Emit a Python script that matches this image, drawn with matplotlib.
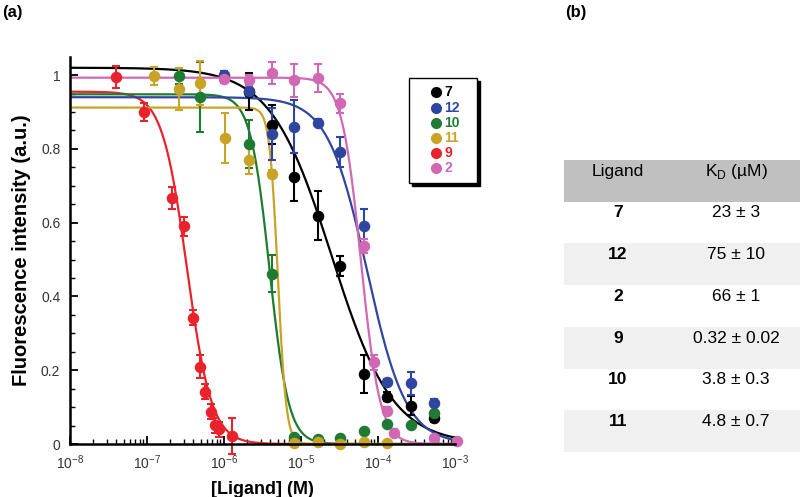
import numpy as np
import matplotlib
matplotlib.use("Agg")
import matplotlib.pyplot as plt
from matplotlib.patches import Rectangle
from matplotlib.lines import Line2D
from matplotlib.ticker import LogLocator, MultipleLocator, NullFormatter

plt.rcParams['font.family'] = ['Liberation Sans', 'DejaVu Sans']
plt.rcParams['mathtext.fontset'] = 'custom'
plt.rcParams['mathtext.rm'] = 'Liberation Sans'

# ---------------- data ----------------
ligands = ['7', '12', '10', '11', '9', '2']
colors = {'7': '#000000', '12': '#2f46a0', '10': '#1f7a33',
          '11': '#c9a326', '9': '#e8232b', '2': '#d068b4'}

x_9 = [4.0e-8, 9.1e-8, 2.1e-7, 3.0e-7, 4.0e-7, 4.9e-7, 5.6e-7, 6.7e-7, 7.6e-7, 8.7e-7, 1.28e-6]
y_9 = [0.995, 0.90, 0.666, 0.59, 0.342, 0.21, 0.142, 0.088, 0.051, 0.04, 0.022]
e_9 = [0.03, 0.025, 0.03, 0.025, 0.02, 0.03, 0.02, 0.02, 0.02, 0.02, 0.048]

x_7 = [2.1e-6, 4.2e-6, 8.1e-6, 1.68e-5, 3.2e-5, 6.5e-5, 1.3e-4, 2.7e-4, 5.4e-4]
y_7 = [0.955, 0.865, 0.723, 0.619, 0.483, 0.189, 0.128, 0.104, 0.07]
e_7 = [0.05, 0.053, 0.065, 0.067, 0.027, 0.052, 0.012, 0.025, 0.01]

x_12 = [1.0e-6, 2.1e-6, 4.2e-6, 8.1e-6, 1.68e-5, 3.2e-5, 6.5e-5, 1.3e-4, 2.7e-4, 5.4e-4]
y_12 = [1.0, 0.957, 0.84, 0.86, 0.871, 0.792, 0.591, 0.167, 0.164, 0.112]
e_12 = [0.01, 0.015, 0.07, 0.072, 0.01, 0.04, 0.045, 0.01, 0.03, 0.01]

x_2 = [1.0e-6, 2.1e-6, 4.2e-6, 8.1e-6, 1.68e-5, 3.2e-5, 6.5e-5, 8.8e-5, 1.3e-4, 1.6e-4, 5.4e-4, 1.05e-3]
y_2 = [0.989, 0.986, 1.006, 0.986, 0.991, 0.923, 0.537, 0.221, 0.089, 0.031, 0.017, 0.009]
e_2 = [0.01, 0.015, 0.03, 0.045, 0.038, 0.025, 0.02, 0.02, 0.01, 0.01, 0.005, 0.005]

x_10 = [2.6e-7, 4.9e-7, 2.1e-6, 4.2e-6, 8.1e-6, 1.68e-5, 3.2e-5, 6.5e-5, 1.3e-4, 2.7e-4, 5.4e-4]
y_10 = [0.997, 0.941, 0.813, 0.461, 0.02, 0.014, 0.017, 0.035, 0.053, 0.051, 0.083]
e_10 = [0.02, 0.095, 0.065, 0.05, 0.005, 0.005, 0.005, 0.005, 0.005, 0.005, 0.005]

x_11 = [1.23e-7, 2.6e-7, 4.9e-7, 1.03e-6, 2.1e-6, 4.2e-6, 8.1e-6, 1.68e-5, 3.2e-5, 6.5e-5, 1.3e-4]
y_11 = [0.997, 0.961, 0.979, 0.83, 0.771, 0.732, 0.003, 0.005, 0.0, 0.005, 0.003]
e_11 = [0.025, 0.057, 0.06, 0.068, 0.04, 0.01, 0.003, 0.003, 0.003, 0.003, 0.003]

# fitted curve parameters: top, midpoint, slope
fit_top = {'7': 1.02, '12': 0.94, '10': 0.948, '11': 0.912, '9': 0.955, '2': 0.993}
fit_mid = {'7': 2.5e-5, '12': 7.2e-5, '10': 3.9e-6, '11': 5.0e-6, '9': 3.3e-7, '2': 6.0e-5}
fit_n = {'7': 1.1, '12': 1.7, '10': 3.5, '11': 8.0, '9': 2.7, '2': 3.5}

series = {'7': (x_7, y_7, e_7), '12': (x_12, y_12, e_12), '10': (x_10, y_10, e_10),
          '11': (x_11, y_11, e_11), '9': (x_9, y_9, e_9), '2': (x_2, y_2, e_2)}

table_ligand = ['7', '12', '2', '9', '10', '11']
table_kd = ['23 ± 3', '75 ± 10', '66 ± 1', '0.32 ± 0.02', '3.8 ± 0.3', '4.8 ± 0.7']

# ---------------- figure ----------------
W, H = 800, 497
fig = plt.figure(figsize=(W / 100, H / 100), dpi=100)

def fx(px):
    return px / W

def fy(py):
    return 1 - py / H

ax = fig.add_axes([fx(70), fy(444), fx(455) - fx(70), fy(57) - fy(444)])
ax.set_xscale('log')
ax.set_xlim(1e-8, 1e-3)
ax.set_ylim(0, 1.049)

draw_order = ['7', '9', '10', '11', '12', '2']
xx = np.logspace(-8, -3, 600)
for lig in draw_order:
    c = colors[lig]
    curve = fit_top[lig] / (1 + (xx / fit_mid[lig]) ** fit_n[lig])
    ax.plot(xx, curve, color=c, lw=1.6, zorder=2)
for k, lig in enumerate(draw_order):
    c = colors[lig]
    x, y, e = series[lig]
    ax.errorbar(x, y, yerr=e, fmt='o', color=c, ms=7.3, mec=c, ecolor=c,
                elinewidth=1.5, capsize=3, capthick=1.5, zorder=3 + 0.01 * k, clip_on=False)

for s in ['top', 'right']:
    ax.spines[s].set_visible(False)
for s in ['left', 'bottom']:
    ax.spines[s].set_linewidth(1.8)
    ax.spines[s].set_zorder(4)

ax.xaxis.set_major_locator(LogLocator(base=10, numticks=10))
ax.xaxis.set_minor_locator(LogLocator(base=10, subs=np.arange(2, 10), numticks=20))
ax.xaxis.set_minor_formatter(NullFormatter())
ax.yaxis.set_major_locator(MultipleLocator(0.2))
ax.yaxis.set_minor_locator(MultipleLocator(0.05))
ax.yaxis.set_major_formatter(plt.FuncFormatter(lambda v, p: ('%g' % round(v, 2))))
ax.tick_params(which='major', direction='in', length=6, width=1.3,
               labelsize=10, labelcolor='#333333', pad=7)
ax.tick_params(which='minor', direction='in', length=3.5, width=1.0)

ax.set_xlabel('[Ligand] (M)', fontsize=13, fontweight='bold', labelpad=6)
ax.set_ylabel('Fluorescence intensity (a.u.)', fontsize=14.5, fontweight='bold', labelpad=7)

fig.text(fx(2), fy(12), '(a)', fontsize=12, fontweight='bold', va='center', ha='left')
fig.text(fx(565), fy(12), '(b)', fontsize=12, fontweight='bold', va='center', ha='left')

# ---------------- legend (drawn box with shadow) ----------------
lx0, ly0, lx1, ly1 = 409, 78, 477, 183
fig.patches.append(Rectangle((fx(lx0 + 3), fy(ly1 + 3)), fx(lx1) - fx(lx0), fy(ly0) - fy(ly1),
                             transform=fig.transFigure, facecolor='black', edgecolor='black', zorder=5))
fig.patches.append(Rectangle((fx(lx0), fy(ly1)), fx(lx1) - fx(lx0), fy(ly0) - fy(ly1),
                             transform=fig.transFigure, facecolor='white', edgecolor='black',
                             lw=1.0, zorder=6))
for i, lig in enumerate(ligands):
    yy = 92.5 + 15.1 * i
    fig.lines.append(Line2D([fx(436)], [fy(yy)], marker='o', ms=7, color=colors[lig],
                            transform=fig.transFigure, zorder=7))
    fig.text(fx(444), fy(yy), lig, color=colors[lig], fontsize=10, fontweight='bold',
             va='center', ha='left', zorder=7)

# ---------------- table (b) ----------------
tx0, ty0, tx1, ty1 = 564, 160, 800, 452
tab = fig.add_axes([fx(tx0), fy(ty1), fx(tx1) - fx(tx0), fy(ty0) - fy(ty1)])
tab.set_xlim(0, 1)
tab.set_ylim(7, 0)
tab.axis('off')
tab.axhspan(0, 1, color='#c0c0c0', lw=0)
for i in range(len(table_ligand)):
    if i % 2 == 1:
        tab.axhspan(i + 1, i + 2, color='#f0f0f0', lw=0)
tab.text(0.229, 0.27, 'Ligand', fontsize=12.5, ha='center', va='center')
tab.text(0.729, 0.27, r'K$_\mathregular{D}$ (µM)', fontsize=12.5, ha='center', va='center')
for i, (lg, kd) in enumerate(zip(table_ligand, table_kd)):
    tab.text(0.229, i + 1.27, lg, fontsize=12.5, fontweight='bold', ha='center', va='center')
    tab.text(0.729, i + 1.27, kd, fontsize=12.5, ha='center', va='center')

fig.savefig('out.png', dpi=100)
